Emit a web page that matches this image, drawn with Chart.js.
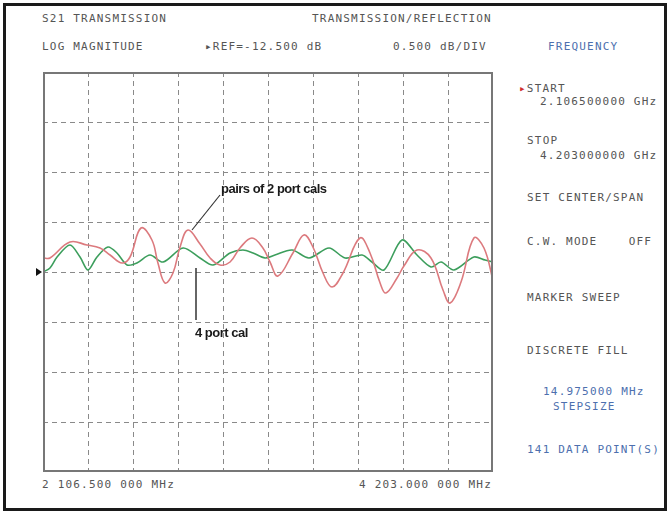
<!DOCTYPE html>
<html>
<head>
<meta charset="utf-8">
<script src="https://cdn.jsdelivr.net/npm/chart.js@4"></script>
<style>
    body { margin: 0; background: #fff; width: 670px; height: 514px; position: relative; overflow: hidden; }
    #frame { position: absolute; left: 3px; top: 3px; width: 664px; height: 508px; border: 3px solid #1a1a1a; box-sizing: border-box; }
    .t { position: absolute; font-family: "DejaVu Sans Mono", monospace; font-size: 11px; letter-spacing: 1.2px; color: #555; white-space: pre; line-height: 12px; }
    .blue { color: #4d6fae; }
    .note { position: absolute; font-family: "Liberation Sans", Arial, sans-serif; font-weight: bold; font-size: 13px; letter-spacing: -0.5px; color: #1a1a1a; white-space: pre; line-height: 14px; }
    #plot { position: absolute; left: 43px; top: 72px; width: 450px; height: 400px; }
    svg { position: absolute; left: 0; top: 0; }
</style>
</head>
<body>
<div id="frame"></div>

<div class="t" style="left:42px; top:13px;">S21 TRANSMISSION</div>
<div class="t" style="left:312px; top:13px;">TRANSMISSION/REFLECTION</div>
<div class="t" style="left:42px; top:41px;">LOG MAGNITUDE</div>
<div class="t" style="left:205px; top:41px;">&#9656;REF=-12.500 dB</div>
<div class="t" style="left:393px; top:41px;">0.500 dB/DIV</div>

<div class="t blue" style="left:548px; top:41px;">FREQUENCY</div>
<div class="t" style="left:519px; top:83px;"><span style="color:#d03030">&#9656;</span>START</div>
<div class="t" style="left:540px; top:96px;">2.106500000 GHz</div>
<div class="t" style="left:527px; top:135px;">STOP</div>
<div class="t" style="left:540px; top:150px;">4.203000000 GHz</div>
<div class="t" style="left:527px; top:192px;">SET CENTER/SPAN</div>
<div class="t" style="left:527px; top:236px;">C.W. MODE    OFF</div>
<div class="t" style="left:527px; top:292px;">MARKER SWEEP</div>
<div class="t" style="left:527px; top:345px;">DISCRETE FILL</div>
<div class="t blue" style="left:543px; top:386px;">14.975000 MHz</div>
<div class="t blue" style="left:553px; top:401px;">STEPSIZE</div>
<div class="t blue" style="left:527px; top:444px;">141 DATA POINT(S)</div>

<div class="t" style="left:42px; top:479px;">2 106.500 000 MHz</div>
<div class="t" style="left:359px; top:479px;">4 203.000 000 MHz</div>

<div id="plot"><canvas id="chart"></canvas></div>

<svg width="670" height="514">
    <line x1="192" y1="230" x2="220" y2="195" stroke="#333" stroke-width="1.2"/>
    <line x1="196" y1="268" x2="196" y2="320" stroke="#333" stroke-width="1.5"/>
</svg>
<div class="note" style="left:221px; top:182px;">pairs of 2 port cals</div>
<div class="note" style="left:195px; top:326px;">4 port cal</div>
<div id="refMark" style="position:absolute; left:36px; top:268px; width:0; height:0; border-top:4px solid transparent; border-bottom:4px solid transparent; border-left:6px solid #111;"></div>

<script>
const startMHz = 2106.5;
const stopMHz = 4203.0;
const refLevel = -12.5;
const dbPerDiv = 0.5;
const xDivTicks = [2106.5, 2316.2, 2525.8, 2735.5, 2945.1, 3154.8, 3364.4, 3574.1, 3783.7, 3993.4, 4203.0];

// pairs of 2 port cals (red trace)
const redFreq = [2106.5, 2139, 2232, 2311, 2372, 2419, 2475, 2512, 2563, 2614, 2642, 2675, 2712, 2745, 2782,
    2838, 2885, 2931, 2978, 3024, 3080, 3131, 3164, 3201, 3271, 3322, 3364, 3411, 3453, 3504,
    3583, 3630, 3677, 3704, 3756, 3788, 3849, 3914, 3970, 4003, 4054, 4114, 4161, 4203];
const redDb = [-12.36, -12.36, -12.20, -12.23, -12.26, -12.33, -12.41, -12.35, -12.06, -12.18, -12.41, -12.61, -12.51, -12.25, -12.08,
    -12.22, -12.36, -12.43, -12.40, -12.26, -12.16, -12.26, -12.40, -12.54, -12.31, -12.13, -12.25, -12.51, -12.65, -12.51,
    -12.16, -12.31, -12.61, -12.71, -12.56, -12.44, -12.28, -12.36, -12.68, -12.81, -12.60, -12.16, -12.26, -12.58];

// 4 port cal (green trace)
const greenFreq = [2106.5, 2139, 2172, 2232, 2279, 2316, 2358, 2409, 2451, 2498, 2544, 2605, 2666, 2759, 2838,
    2899, 2978, 3038, 3085, 3141, 3187, 3267, 3346, 3439, 3514, 3593, 3639, 3695, 3779, 3849,
    3914, 3961, 4021, 4114, 4166, 4203];
const greenDb = [-12.50, -12.46, -12.35, -12.23, -12.35, -12.48, -12.35, -12.25, -12.31, -12.43, -12.41, -12.33, -12.40, -12.26, -12.36,
    -12.43, -12.31, -12.28, -12.31, -12.36, -12.33, -12.28, -12.36, -12.26, -12.36, -12.33, -12.40, -12.48, -12.18, -12.33,
    -12.45, -12.40, -12.48, -12.35, -12.38, -12.40];

function toPoints(xs, ys) {
    return xs.map((x, i) => ({ x: x, y: ys[i] }));
}

// dashed graticule, drawn from each scale's own ticks
const graticulePlugin = {
    id: "graticule",
    beforeDatasetsDraw(chart) {
        const ctx = chart.ctx;
        const a = chart.chartArea;
        const xs = chart.scales.x;
        const ys = chart.scales.y;
        ctx.save();
        ctx.strokeStyle = "#8a8a8a";
        ctx.lineWidth = 1;
        ctx.setLineDash([5, 4]);
        xs.ticks.forEach(t => {
            const px = Math.round(xs.getPixelForValue(t.value)) + 0.5;
            ctx.beginPath();
            ctx.moveTo(px, a.top);
            ctx.lineTo(px, a.bottom);
            ctx.stroke();
        });
        ys.ticks.forEach(t => {
            const py = Math.round(ys.getPixelForValue(t.value)) + 0.5;
            ctx.beginPath();
            ctx.moveTo(a.left, py);
            ctx.lineTo(a.right, py);
            ctx.stroke();
        });
        ctx.restore();
    },
    afterDraw(chart) {
        // solid box round the screen
        const ctx = chart.ctx;
        const a = chart.chartArea;
        ctx.save();
        ctx.strokeStyle = "#777";
        ctx.lineWidth = 2;
        ctx.strokeRect(a.left + 1, a.top + 1, a.right - a.left - 2, a.bottom - a.top - 2);
        ctx.restore();

        // reference level marker, placed from the y scale
        const y = chart.scales.y.getPixelForValue(refLevel);
        const marker = document.getElementById("refMark");
        if (marker) marker.style.top = (72 + y - 4) + "px";
    }
};

new Chart(document.getElementById("chart"), {
    type: "line",
    data: {
        datasets: [
            {
                label: "pairs of 2 port cals",
                data: toPoints(redFreq, redDb),
                borderColor: "#dc7a7e",
                borderWidth: 1.6,
                pointRadius: 0,
                tension: 0.4,
                fill: false
            },
            {
                label: "4 port cal",
                data: toPoints(greenFreq, greenDb),
                borderColor: "#3c9e5c",
                borderWidth: 1.6,
                pointRadius: 0,
                tension: 0.3,
                fill: false
            }
        ]
    },
    options: {
        responsive: true,
        maintainAspectRatio: false,
        animation: false,
        layout: { padding: 0 },
        plugins: {
            legend: { display: false },
            tooltip: { enabled: false }
        },
        scales: {
            x: {
                type: "linear",
                min: startMHz,
                max: stopMHz,
                afterBuildTicks: (scale) => {
                    scale.ticks = xDivTicks.map(v => ({ value: v }));
                },
                ticks: { display: false },
                grid: { display: false, drawTicks: false },
                border: { display: false }
            },
            y: {
                min: refLevel - 4 * dbPerDiv,
                max: refLevel + 4 * dbPerDiv,
                ticks: { display: false, stepSize: dbPerDiv },
                grid: { display: false, drawTicks: false },
                border: { display: false }
            }
        }
    },
    plugins: [graticulePlugin]
});
</script>
</body>
</html>
